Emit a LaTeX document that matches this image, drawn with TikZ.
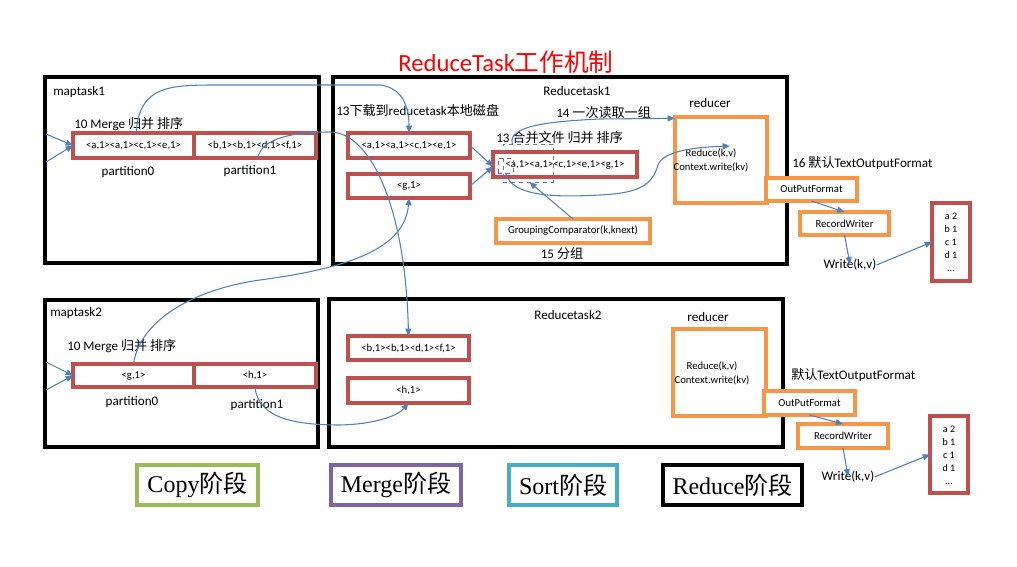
\documentclass[tikz,border=0pt]{standalone}
\usepackage{fontspec}
\setmainfont{Carlito}
\newfontfamily\cjk{Noto Sans CJK SC}
\newfontfamily\tnr{Liberation Serif}
\usetikzlibrary{arrows.meta}
\definecolor{boxred}{HTML}{C0504D}
\definecolor{boxorange}{HTML}{F79646}
\definecolor{lineblue}{HTML}{4F81BD}
\definecolor{lgreen}{HTML}{9BBB59}
\definecolor{lpurple}{HTML}{8064A2}
\definecolor{lteal}{HTML}{4BACC6}
\newcommand\PBox[7]{\node[#1, minimum width={(#5-#3)*0.75pt}, minimum height={(#6-#4)*0.75pt}] (#2) at ({(#3+#5)/2},{(#4+#6)/2}) {#7};}
\tikzset{
 blackbox/.style={draw=black, line width=2.4pt, inner sep=0pt, outer sep=0pt},
 redbox/.style={draw=boxred, fill=white, line width=2.4pt, inner sep=0pt, outer sep=0pt, font=\fontsize{8}{9}\selectfont},
 orangebox/.style={draw=boxorange, fill=white, line width=2.4pt, inner sep=0pt, outer sep=0pt, font=\fontsize{8}{9}\selectfont},
 lbl/.style={inner sep=0pt, font=\fontsize{9.8}{11}\selectfont},
 conn/.style={draw=lineblue, line width=0.8pt, -{Triangle[length=5.5pt,width=4.5pt]}},
 legendbox/.style={draw, line width=2.4pt, inner sep=0pt, font=\tnr\fontsize{18}{20}\selectfont},
 dashblue/.style={draw=lineblue, dashed, line width=0.7pt, inner sep=0pt, outer sep=0pt},
 dashpurple/.style={draw=lpurple, dashed, line width=0.7pt, inner sep=0pt, outer sep=0pt},
 outtext/.style={inner sep=0pt, align=center, font=\fontsize{7.5}{9.8}\selectfont},
}
\begin{document}
\begin{tikzpicture}[x=0.75pt,y=-0.75pt]
\path[use as bounding box] (0,0) rectangle (1017,567);
% title
\node[text=red, font=\fontsize{18.5}{21}\selectfont, inner sep=0pt] (title) at (506,62) {ReduceTask{\cjk 工作机制}};
% big boxes
\PBox{blackbox}{mt1}{45}{77}{319}{263}{}
\PBox{blackbox}{rt1}{333}{77}{787}{264}{}
\PBox{blackbox}{mt2}{45}{300}{318}{447}{}
\PBox{blackbox}{rt2}{329}{299}{783}{447}{}
% maptask1
\node[lbl, anchor=west] (mt1l) at (53,92) {maptask1};
\node[lbl, anchor=west] (mg1) at (74,124) {10 Merge {\cjk 归并 排序}};
\PBox{redbox}{p0}{73}{133}{194}{158}{<a,1><a,1><c,1><e,1>}
\PBox{redbox}{p1}{194}{133}{316}{158}{<b,1><b,1><d,1><f,1>}
\node[lbl] (p0l) at (128,172) {partition0};
\node[lbl] (p1l) at (250,171) {partition1};
\coordinate (in1a) at (46,134);
\coordinate (in1b) at (46,162);
% maptask2
\node[lbl, anchor=west] (mt2l) at (50,313) {maptask2};
\node[lbl, anchor=west] (mg2) at (67,346) {10 Merge {\cjk 归并 排序}};
\PBox{redbox}{q0}{73}{364}{194}{387}{<g,1>}
\PBox{redbox}{q1}{194}{364}{316}{387}{<h,1>}
\node[lbl] (q0l) at (132,402) {partition0};
\node[lbl] (q1l) at (257,405) {partition1};
\coordinate (in2a) at (46,362);
\coordinate (in2b) at (46,390);
% reducetask1
\node[lbl] (rt1l) at (577,91) {Reducetask1};
\node[lbl, anchor=west] (dl1) at (336,110) {13{\cjk 下载到}reducetask{\cjk 本地磁盘}};
\PBox{redbox}{ra}{348}{133}{470}{158}{<a,1><a,1><c,1><e,1>}
\PBox{redbox}{rg}{348}{174}{470}{198}{<g,1>}
\node[lbl, anchor=west] (mrg) at (496,138) {13 {\cjk 合并文件 归并 排序}};
\PBox{redbox}{rm}{493}{152}{637}{177}{<a,1><a,1><c,1><e,1><g,1>}
\PBox{dashblue}{bd}{503}{144}{553}{182}{}
\PBox{dashpurple}{pd}{498}{158}{513}{173}{}
\PBox{orangebox}{gc}{496}{219}{650}{243}{GroupingComparator(k,knext)}
\node[lbl] (grp) at (562,254) {15 {\cjk 分组}};
\node[lbl, anchor=west] (rd14) at (556,113) {14 {\cjk 一次读取一组}};
\node[lbl] (rdc1) at (710,103) {reducer};
\PBox{orangebox}{red1}{675}{117}{767}{203}{}
\node[outtext, font=\fontsize{8}{10.5}\selectfont] (rtx1) at (711,160) {Reduce(k,v)\\Context.write(kv)};
\node[lbl, anchor=west] (tof1) at (792,163) {16 {\cjk 默认}TextOutputFormat};
\PBox{orangebox}{of1}{766}{178}{857}{201}{OutPutFormat}
\PBox{orangebox}{rw1}{800}{212}{889}{235}{RecordWriter}
\node[lbl] (w1) at (850,265) {Write(k,v)};
\PBox{redbox}{out1}{932}{203}{970}{281}{}
\node[outtext] (o1t) at (951,242) {a 2\\b 1\\c 1\\d 1\\...};
% reducetask2
\node[lbl] (rt2l) at (568,315) {Reducetask2};
\PBox{redbox}{rb}{348}{336}{469}{360}{<b,1><b,1><d,1><f,1>}
\PBox{redbox}{rh}{348}{378}{469}{403}{<h,1>}
\node[lbl] (rdc2) at (708,317) {reducer};
\PBox{orangebox}{red2}{673}{329}{766}{416}{}
\node[outtext, font=\fontsize{8}{10.5}\selectfont] (rtx2) at (712,373) {Reduce(k,v)\\Context.write(kv)};
\node[lbl, anchor=west] (tof2) at (791,375) {{\cjk 默认}TextOutputFormat};
\PBox{orangebox}{of2}{764}{391}{855}{415}{OutPutFormat}
\PBox{orangebox}{rw2}{798}{424}{888}{448}{RecordWriter}
\node[lbl] (w2) at (848,477) {Write(k,v)};
\PBox{redbox}{out2}{930}{416}{968}{493}{}
\node[outtext] (o2t) at (949,455) {a 2\\b 1\\c 1\\d 1\\...};
% legend
\PBox{legendbox, draw=lgreen}{lg1}{137}{465}{258}{505}{Copy{\cjk 阶段}}
\PBox{legendbox, draw=lpurple}{lg2}{331}{465}{461}{505}{Merge{\cjk 阶段}}
\PBox{legendbox, draw=lteal}{lg3}{509}{465}{617}{505}{Sort{\cjk 阶段}}
\PBox{legendbox, draw=black}{lg4}{663}{465}{802}{505}{Reduce{\cjk 阶段}}
% connectors
\draw[conn] (in1a) -- (p0.west);
\draw[conn] (in1b) -- (p0.west);
\draw[conn] (in2a) -- (q0.west);
\draw[conn] (in2b) -- (q0.west);
\draw[conn] ([xshift=2pt]p0.north) .. controls +(3,-48) and +(-50,0) .. (220,85) -- (380,85) .. controls +(25,3) and +(0,-22) .. (ra.north);
\draw[conn] ([xshift=2pt]p1.south) .. controls +(4,-19) and +(-40,0) .. (330,132) .. controls +(40,0) and +(-3,-130) .. (rb.north);
\draw[conn] (q0.north) .. controls +(6,-42) and +(-70,10) .. (260,280) .. controls +(90,-12) and +(-4,50) .. (rg.south);
\draw[conn] (q1.south) .. controls +(3,33) and +(-40,0) .. (340,425) .. controls +(40,-1) and +(-9,11) .. (rh.south);
\draw[conn] (ra.east) -- ([yshift=-1.5pt]rm.west);
\draw[conn] (rg.east) -- ([yshift=-1.5pt]rm.west);
\draw[conn] ([xshift=7pt]bd.north west) .. controls +(-6,-20) and +(-40,2) .. (600,119) -- ([yshift=-1pt]red1.north west);
\coordinate (c8) at (730,146);
\draw[conn] (pd.south) .. controls (512,198) and (560,197) .. (600,195) .. controls (640,193) and (652,185) .. (658,165) .. controls (663,150) and (700,147) .. (c8);
\draw[conn] (gc.north) -- ([xshift=1pt]bd.south);
\draw[conn] (of1.south) -- (rw1.north);
\draw[conn] (rw1.south) -- ([yshift=-4pt]w1.north);
\draw[conn] (w1.east) -- (out1.west);
\draw[conn] (of2.south) -- (rw2.north);
\draw[conn] (rw2.south) -- ([yshift=-4pt]w2.north);
\draw[conn] (w2.east) -- (out2.west);
\end{tikzpicture}
\end{document}
